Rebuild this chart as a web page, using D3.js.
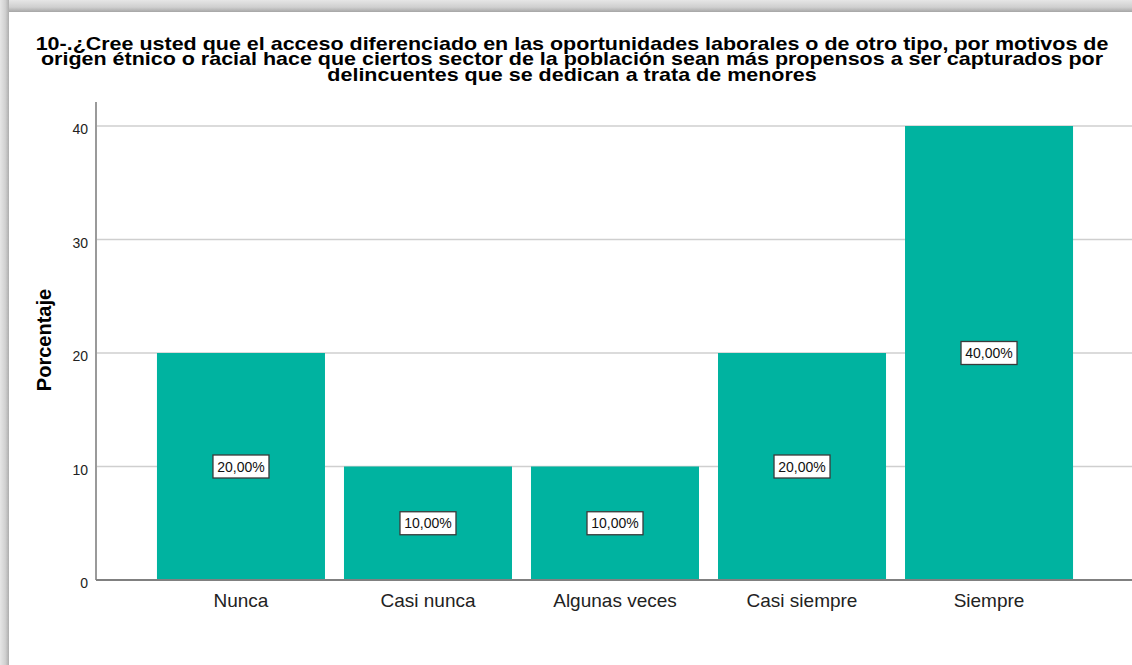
<!DOCTYPE html>
<html>
<head>
<meta charset="utf-8">
<script src="https://cdn.jsdelivr.net/npm/d3@7"></script>
<style>
    body { margin: 0; background: #fff; }
    svg { display: block; font-family: "Liberation Sans", Arial, sans-serif; }
</style>
</head>
<body>
<script>
const titleLines = [
    "10-.¿Cree usted que el acceso diferenciado en las oportunidades laborales o de otro tipo, por motivos de",
    "origen étnico o racial hace que ciertos sector de la población sean más propensos a ser capturados por",
    "delincuentes que se dedican a trata de menores"
];
const categories = ["Nunca", "Casi nunca", "Algunas veces", "Casi siempre", "Siempre"];
const percents = [20, 10, 10, 20, 40];
const yTicks = [0, 10, 20, 30, 40];
const yLabel = "Porcentaje";

const width = 1132;
const height = 665;
const margin = { top: 126, right: 0, bottom: 85, left: 96 };
const innerWidth = width - margin.left - margin.right;
const innerHeight = height - margin.top - margin.bottom;

const svg = d3.select("body")
    .append("svg")
    .attr("width", width)
    .attr("height", height);

// drop shadow strips round the picture
const defs = svg.append("defs");
const topGrad = defs.append("linearGradient").attr("id", "shTop")
    .attr("x1", 0).attr("y1", 0).attr("x2", 0).attr("y2", 1);
topGrad.append("stop").attr("offset", "0%").attr("stop-color", "#e6e6e6");
topGrad.append("stop").attr("offset", "60%").attr("stop-color", "#cfcfcf");
topGrad.append("stop").attr("offset", "100%").attr("stop-color", "#a6a6a6");
const leftGrad = defs.append("linearGradient").attr("id", "shLeft")
    .attr("x1", 0).attr("y1", 0).attr("x2", 1).attr("y2", 0);
leftGrad.append("stop").attr("offset", "0%").attr("stop-color", "#e6e6e6");
leftGrad.append("stop").attr("offset", "60%").attr("stop-color", "#d0d0d0");
leftGrad.append("stop").attr("offset", "100%").attr("stop-color", "#adadad");
svg.append("rect").attr("x", 0).attr("y", 0).attr("width", width).attr("height", 12).attr("fill", "url(#shTop)");
svg.append("rect").attr("x", 0).attr("y", 0).attr("width", 9).attr("height", height).attr("fill", "url(#shLeft)");

// title (the original font is wider than Liberation Sans)
svg.append("text")
    .attr("transform", "translate(572, 0) scale(1.2, 1)")
    .attr("text-anchor", "middle")
    .attr("font-weight", "bold")
    .attr("font-size", "17.9px")
    .attr("fill", "#000")
    .selectAll("tspan")
    .data(titleLines)
    .join("tspan")
    .attr("x", 0)
    .attr("y", (d, i) => 50 + i * 15.3)
    .text(d => d);

const xScale = d3.scaleBand()
    .domain(categories)
    .range([0, 1038])
    .paddingInner(0.1016)
    .paddingOuter(0.326);

const yScale = d3.scaleLinear()
    .domain([0, 40])
    .range([innerHeight, 0]);

const g = svg.append("g")
    .attr("transform", `translate(${margin.left}, ${margin.top})`);

// gridlines
g.append("g")
    .selectAll("line")
    .data(yTicks.filter(d => d > 0))
    .join("line")
    .attr("x1", 0)
    .attr("x2", innerWidth)
    .attr("y1", d => yScale(d))
    .attr("y2", d => yScale(d))
    .attr("stroke", "#cfcfcf")
    .attr("stroke-width", 1.5);

// bars
g.append("g")
    .selectAll("rect")
    .data(percents)
    .join("rect")
    .attr("x", (d, i) => xScale(categories[i]))
    .attr("y", d => yScale(d))
    .attr("width", xScale.bandwidth())
    .attr("height", d => innerHeight - yScale(d))
    .attr("fill", "#00b3a0");

// value labels
const labels = g.append("g")
    .selectAll("g")
    .data(percents)
    .join("g")
    .attr("transform", (d, i) => `translate(${xScale(categories[i]) + xScale.bandwidth() / 2}, ${yScale(d / 2)})`);
labels.append("rect")
    .attr("x", -28)
    .attr("y", -11.5)
    .attr("width", 56)
    .attr("height", 23)
    .attr("fill", "#fff")
    .attr("stroke", "#3a3a3a")
    .attr("stroke-width", 1.3);
labels.append("text")
    .attr("text-anchor", "middle")
    .attr("dy", "0.36em")
    .attr("font-size", "14px")
    .attr("fill", "#111")
    .text(d => d.toFixed(2).replace(".", ",") + "%");

// y axis
const yAxis = d3.axisLeft(yScale).tickValues(yTicks).tickSize(0).tickPadding(8);
const yG = g.append("g").call(yAxis);
yG.select(".domain").remove();
yG.selectAll("text")
    .attr("font-size", "14px")
    .attr("font-family", "Liberation Sans, Arial, sans-serif")
    .attr("fill", "#222")
    .attr("dy", "0.55em");
g.append("line")
    .attr("x1", 0).attr("x2", 0)
    .attr("y1", -24).attr("y2", innerHeight)
    .attr("stroke", "#9a9a9a")
    .attr("stroke-width", 2);

// x axis
const xAxis = d3.axisBottom(xScale).tickSize(0).tickPadding(14);
const xG = g.append("g").attr("transform", `translate(0, ${innerHeight})`).call(xAxis);
xG.select(".domain").remove();
xG.selectAll("text")
    .attr("font-size", "19px")
    .attr("font-family", "Liberation Sans, Arial, sans-serif")
    .attr("fill", "#222");
g.append("line")
    .attr("x1", 0).attr("x2", innerWidth)
    .attr("y1", innerHeight).attr("y2", innerHeight)
    .attr("stroke", "#808080")
    .attr("stroke-width", 2);

// y label
svg.append("text")
    .attr("transform", `translate(51, 340) rotate(-90)`)
    .attr("text-anchor", "middle")
    .attr("font-weight", "bold")
    .attr("font-size", "20px")
    .attr("fill", "#000")
    .text(yLabel);
</script>
</body>
</html>
